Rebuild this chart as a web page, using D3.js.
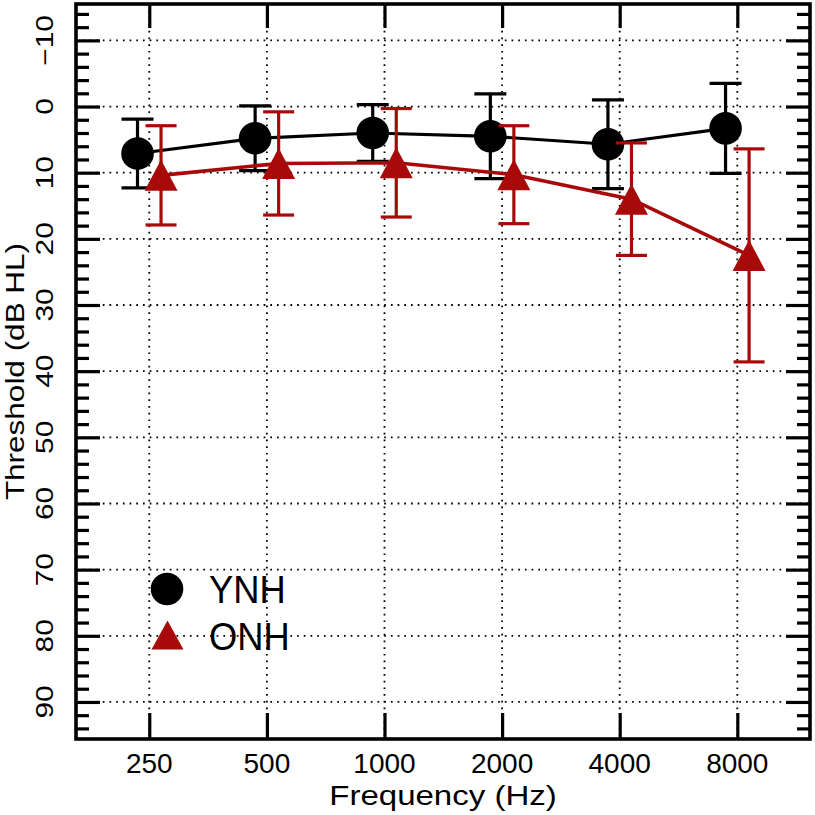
<!DOCTYPE html>
<html>
<head>
<meta charset="utf-8">
<script src="https://cdn.jsdelivr.net/npm/d3@7"></script>
<style>
  html, body { margin: 0; padding: 0; background: #fff; }
  svg { display: block; }
  text { font-family: "Liberation Sans", Arial, Helvetica, sans-serif; fill: #000; }
</style>
</head>
<body>
<svg id="chart" width="815" height="815"></svg>
<script>
// ---- data ----
const freqs = [250, 500, 1000, 2000, 4000, 8000];
const freqLabels = ["250", "500", "1000", "2000", "4000", "8000"];
const ynhMean = [7.1, 4.8, 4.0, 4.5, 5.7, 3.3];
const ynhSD   = [5.2, 4.9, 4.3, 6.4, 6.7, 6.8];
const onhMean = [10.4, 8.6, 8.5, 10.3, 14.0, 22.5];
const onhSD   = [7.5, 7.8, 8.2, 7.4, 8.5, 16.1];
const yMajorTicks = [-10, 0, 10, 20, 30, 40, 50, 60, 70, 80, 90];
const yMinorTicks = d3.range(-14, 95, 2).filter(v => v % 10 !== 0);
const seriesNames = ["YNH", "ONH"];

// ---- layout ----
const L = 76, R = 810, T = 4, B = 739;
const red = "#a80a0a", black = "#000";

const svg = d3.select("#chart");

const x = d3.scaleLog().base(2)
  .domain([250 * Math.pow(2, -0.623), 8000 * Math.pow(2, 0.618)])
  .range([L, R]);
const y = d3.scaleLinear().domain([-15.5, 95.6]).range([T, B]);

const offset = 0.1; // octave offset between the two groups
const xYNH = f => x(f * Math.pow(2, -offset));
const xONH = f => x(f * Math.pow(2, offset));

// ---- grid ----
const grid = svg.append("g").attr("stroke", "#000").attr("stroke-width", 1.8)
  .attr("stroke-dasharray", "1.7,5").attr("fill", "none");
grid.selectAll("line.h").data(yMajorTicks).join("line")
  .attr("x1", L).attr("x2", R).attr("y1", d => y(d)).attr("y2", d => y(d));
grid.selectAll("line.v").data(freqs).join("line")
  .attr("y1", T).attr("y2", B).attr("x1", d => x(d)).attr("x2", d => x(d));

// ---- ticks (inward) ----
function styleAxis(g) {
  g.select(".domain").remove();
  g.selectAll(".tick line").attr("stroke", "#000").attr("stroke-width", 3.2);
  g.selectAll(".tick text").remove();
}
svg.append("g").attr("transform", `translate(${L},0)`)
  .call(d3.axisLeft(y).tickValues(yMajorTicks).tickSize(-24).tickFormat("")).call(styleAxis);
svg.append("g").attr("transform", `translate(${L},0)`)
  .call(d3.axisLeft(y).tickValues(yMinorTicks).tickSize(-13).tickFormat("")).call(styleAxis);
svg.append("g").attr("transform", `translate(${R},0)`)
  .call(d3.axisRight(y).tickValues(yMajorTicks).tickSize(-24).tickFormat("")).call(styleAxis);
svg.append("g").attr("transform", `translate(${R},0)`)
  .call(d3.axisRight(y).tickValues(yMinorTicks).tickSize(-13).tickFormat("")).call(styleAxis);
svg.append("g").attr("transform", `translate(0,${B})`)
  .call(d3.axisBottom(x).tickValues(freqs).tickSize(-26).tickFormat("")).call(styleAxis);
svg.append("g").attr("transform", `translate(0,${T})`)
  .call(d3.axisTop(x).tickValues(freqs).tickSize(-24).tickFormat("")).call(styleAxis);

// frame
svg.append("rect").attr("x", L).attr("y", T).attr("width", R - L).attr("height", B - T)
  .attr("fill", "none").attr("stroke", "#000").attr("stroke-width", 3.6);

// ---- tick labels ----
svg.append("g").selectAll("text").data(freqs).join("text")
  .attr("x", d => x(d)).attr("y", 772.5)
  .attr("text-anchor", "middle").attr("font-size", 28)
  .text((d, i) => freqLabels[i]);

svg.append("g").selectAll("text").data(yMajorTicks).join("text")
  .attr("transform", d => `translate(53,${y(d)}) rotate(-90) scale(1.27,1)`)
  .attr("text-anchor", "middle").attr("font-size", 23.5)
  .text(d => d < 0 ? "\u2212" + Math.abs(d) : String(d));

// ---- axis titles ----
svg.append("text")
  .attr("transform", `translate(${(L + R) / 2},805) scale(1.18,1)`)
  .attr("text-anchor", "middle").attr("font-size", 28)
  .text("Frequency (Hz)");
svg.append("text")
  .attr("transform", `translate(24,${(T + B) / 2}) rotate(-90) scale(1.26,1)`)
  .attr("text-anchor", "middle").attr("font-size", 25)
  .text("Threshold (dB HL)");

// ---- series ----
const triPath = (w, h) => `M0,${-h / 2}L${w / 2},${h / 2}L${-w / 2},${h / 2}Z`;

function drawSeries(means, sds, xf, color, marker, capHalf, lw) {
  const g = svg.append("g");
  const pts = freqs.map((f, i) => ({ f, m: means[i], s: sds[i] }));
  g.append("path").datum(pts)
    .attr("d", d3.line().x(d => xf(d.f)).y(d => y(d.m)))
    .attr("fill", "none").attr("stroke", color).attr("stroke-width", lw);
  const eb = g.append("g").attr("stroke", color).attr("stroke-width", 3.2);
  eb.selectAll("line.v").data(pts).join("line")
    .attr("x1", d => xf(d.f)).attr("x2", d => xf(d.f))
    .attr("y1", d => y(d.m - d.s)).attr("y2", d => y(d.m + d.s));
  eb.selectAll("line.t").data(pts).join("line")
    .attr("x1", d => xf(d.f) - capHalf).attr("x2", d => xf(d.f) + capHalf)
    .attr("y1", d => y(d.m - d.s)).attr("y2", d => y(d.m - d.s));
  eb.selectAll("line.b").data(pts).join("line")
    .attr("x1", d => xf(d.f) - capHalf).attr("x2", d => xf(d.f) + capHalf)
    .attr("y1", d => y(d.m + d.s)).attr("y2", d => y(d.m + d.s));
  if (marker === "circle") {
    g.selectAll("circle").data(pts).join("circle")
      .attr("cx", d => xf(d.f)).attr("cy", d => y(d.m)).attr("r", 16.3)
      .attr("fill", color);
  } else {
    g.selectAll("path.tri").data(pts).join("path").attr("class", "tri")
      .attr("transform", d => `translate(${xf(d.f)},${y(d.m)})`)
      .attr("d", triPath(33, 31)).attr("fill", color);
  }
}
drawSeries(ynhMean, ynhSD, xYNH, black, "circle", 16, 3.2);
drawSeries(onhMean, onhSD, xONH, red, "triangle", 15.5, 3.6);

// ---- legend ----
const lg = svg.append("g");
lg.append("circle").attr("cx", 167).attr("cy", 589).attr("r", 16.3).attr("fill", black);
lg.append("path").attr("transform", "translate(167.5,635)").attr("d", triPath(32, 29)).attr("fill", red);
lg.append("text").attr("transform", "translate(209,603.3) scale(0.92,1)")
  .attr("font-size", 39.5).text(seriesNames[0]);
lg.append("text").attr("transform", "translate(209,650) scale(0.92,1)")
  .attr("font-size", 39.5).text(seriesNames[1]);
</script>
</body>
</html>
